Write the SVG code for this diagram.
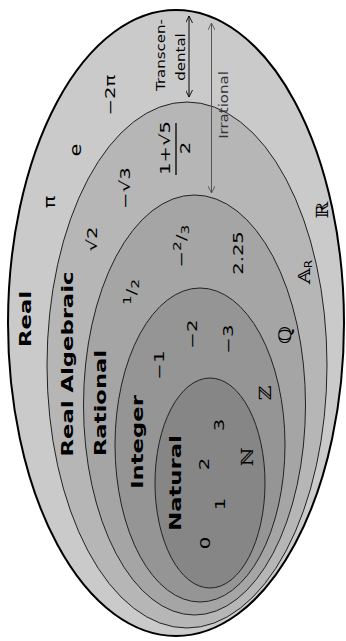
<svg xmlns="http://www.w3.org/2000/svg" width="346" height="641" viewBox="0 0 346 641">
<style>
text{font-family:"DejaVu Sans","Liberation Sans",sans-serif;text-anchor:middle;dominant-baseline:central;fill:#000}
.b{font-weight:bold;font-size:16px}
.n{font-size:14px}
.s{font-size:12px}
.d{font-family:"DejaVu Serif","DejaVu Sans",serif;font-size:17px}
.set{stroke:#222;stroke-width:1}
</style>
<defs>
<marker id="ah" viewBox="0 0 10 10" refX="10" refY="5" markerWidth="7" markerHeight="7" orient="auto-start-reverse" markerUnits="userSpaceOnUse">
<path d="M0,0 L10,5 L0,10" fill="none" stroke="context-stroke" stroke-width="1.3"/>
</marker>
</defs>
<g id="real">
<ellipse cx="176" cy="323" rx="168" ry="313" fill="#cacaca" stroke="#000" stroke-width="2"/>
</g>
<g id="algebraic">
<ellipse class="set" cx="187" cy="365" rx="140" ry="263" fill="#b6b6b6"/>
</g>
<g id="rational">
<ellipse class="set" cx="194.5" cy="405" rx="111" ry="210" fill="#a5a5a5"/>
</g>
<g id="integer">
<ellipse class="set" cx="200" cy="445" rx="85" ry="157" fill="#959595"/>
</g>
<g id="natural">
<ellipse class="set" cx="210" cy="483" rx="55" ry="105" fill="#868686"/>
</g>
<g id="connectors" fill="none">
<line x1="189" y1="16" x2="189" y2="97" stroke="#000" stroke-width="1" marker-start="url(#ah)" marker-end="url(#ah)"/>
<line x1="211.5" y1="23" x2="211.5" y2="193" stroke="#555" stroke-width="1" marker-start="url(#ah)" marker-end="url(#ah)"/>
</g>
<g id="labels">
<text class="b" transform="translate(26,319) scale(1,1.42) rotate(-90)">Real</text>
<text class="b" transform="translate(68,364) scale(1,1.42) rotate(-90)">Real Algebraic</text>
<text class="b" transform="translate(101,403) scale(1,1.42) rotate(-90)">Rational</text>
<text class="b" transform="translate(138,442) scale(1,1.42) rotate(-90)">Integer</text>
<text class="b" transform="translate(176,483) scale(1,1.42) rotate(-90)">Natural</text>
<text class="s" transform="translate(161,55) scale(1,1.25) rotate(-90)">Transcen-</text>
<text class="s" transform="translate(181,57) scale(1,1.25) rotate(-90)">dental</text>
<text class="s" style="fill:#333" transform="translate(224,105) scale(1,1.25) rotate(-90)">Irrational</text>
</g>
<g id="members">
<text class="n" transform="translate(205,543) scale(1,1.4) rotate(-90)">0</text>
<text class="n" transform="translate(220,504) scale(1,1.4) rotate(-90)">1</text>
<text class="n" transform="translate(204,464) scale(1,1.4) rotate(-90)">2</text>
<text class="n" transform="translate(219,425) scale(1,1.4) rotate(-90)">3</text>
<text class="n" transform="translate(159,365) scale(1,1.4) rotate(-90)">−1</text>
<text class="n" transform="translate(192,334) scale(1,1.4) rotate(-90)">−2</text>
<text class="n" transform="translate(228,339) scale(1,1.4) rotate(-90)">−3</text>
<text class="n" transform="translate(131,292) scale(1,1.4) rotate(-90)"><tspan font-size="11" dy="-4">1</tspan><tspan dy="4">/</tspan><tspan font-size="11" dy="4">2</tspan></text>
<text class="n" transform="translate(181,246) scale(1,1.4) rotate(-90)"><tspan>−</tspan><tspan font-size="11" dy="-4">2</tspan><tspan dy="4">/</tspan><tspan font-size="11" dy="4">3</tspan></text>
<text class="n" transform="translate(238,253) scale(1,1.4) rotate(-90)">2.25</text>
<text class="n" transform="translate(92,239) scale(1,1.4) rotate(-90)">√2</text>
<text class="n" transform="translate(125,188) scale(1,1.4) rotate(-90)">−√3</text>
<text class="n" transform="translate(165,148) scale(1,1.4) rotate(-90)">1+√5</text>
<line x1="176" y1="123" x2="176" y2="175" stroke="#000" stroke-width="1.3"/>
<text class="n" transform="translate(185,148) scale(1,1.4) rotate(-90)">2</text>
<text class="n" style="font-size:16px" transform="translate(49,202) scale(1,1.3) rotate(-90)">π</text>
<text class="n" style="font-size:16px" transform="translate(75,150) scale(1,1.3) rotate(-90)">e</text>
<text class="n" transform="translate(110,95) scale(1,1.4) rotate(-90)">−2π</text>
<text class="d" transform="translate(247,457) scale(1,1.2) rotate(-90)">ℕ</text>
<text class="d" transform="translate(265,393) scale(1,1.2) rotate(-90)">ℤ</text>
<text class="d" transform="translate(285,335) scale(1,1.2) rotate(-90)">ℚ</text>
<text class="d" transform="translate(304,272) scale(1,1.2) rotate(-90)"><tspan>𝔸</tspan><tspan font-family="DejaVu Sans" font-size="10" dy="4">R</tspan></text>
<text class="d" transform="translate(322,210) scale(1,1.2) rotate(-90)">ℝ</text>
</g>
</svg>
